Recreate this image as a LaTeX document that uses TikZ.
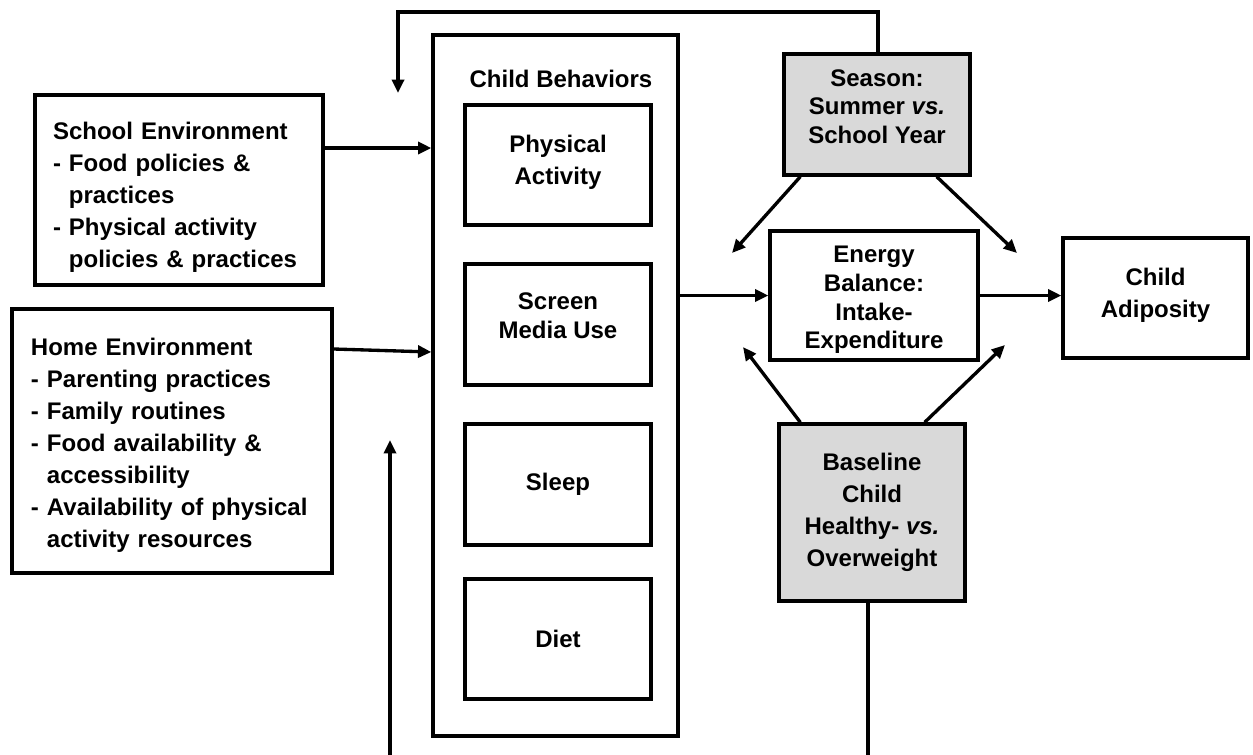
\documentclass[tikz,border=0pt]{standalone}
\usepackage{fontspec}
\setmainfont{Liberation Sans}
\usetikzlibrary{arrows.meta,calc}
\newdimen\px \px=0.75pt
\newcommand{\lowerby}[1]{\rule{0pt}{#1}}
\newcommand{\raiseby}[1]{\rule[-#1]{0pt}{#1}}
\tikzset{
  bx/.style={draw=black, line width=2.5pt, rectangle, inner sep=0pt, font=\bfseries},
  gbx/.style={bx, fill=black!15},
  tight/.style={align=center, font=\bfseries\fontsize{18pt}{21.5pt}\selectfont},
  loose/.style={align=center, font=\bfseries\fontsize{18pt}{24pt}\selectfont},
  lefttxt/.style={align=left, font=\bfseries\fontsize{18pt}{24pt}\selectfont},
  arr/.style={line width=2.5pt, -{Triangle[length=10pt,width=9pt]}}
}
\begin{document}
\begin{tikzpicture}[x=0.75pt,y=-0.75pt]
\useasboundingbox (0,0) rectangle (1253,754);
\clip (0,0) rectangle (1253,754);

% left boxes
\node[bx, lefttxt, minimum width=288\px, minimum height=190\px, text width=252\px, inner xsep=18\px] (school) at (179,190)
  {\lowerby{24.5pt}School Environment\\- Food policies \&\\\hphantom{-}\ practices\\- Physical activity\\\hphantom{-}\ policies \& practices};
\node[bx, lefttxt, minimum width=320\px, minimum height=264\px, text width=282\px, inner xsep=19\px] (home) at (172,441)
  {\lowerby{19pt}Home Environment\\- Parenting practices\\- Family routines\\- Food availability \&\\\hphantom{-}\ accessibility\\- Availability of physical\\\hphantom{-}\ activity resources};

% child behaviors
\node[bx, minimum width=245\px, minimum height=701\px] (cb) at (555.5,385.5) {};
\node[anchor=base, font=\bfseries\fontsize{18pt}{22pt}\selectfont] (cbt) at (561,87) {Child Behaviors};
\node[bx, loose, minimum width=186\px, minimum height=120\px] (pa) at (558,165) {Physical\\Activity\raiseby{7.5pt}};
\node[bx, tight, minimum width=186\px, minimum height=121\px] (sm) at (558,324.5) {Screen\\Media Use\raiseby{13.5pt}};
\node[bx, tight, minimum width=186\px, minimum height=121\px] (sl) at (558,484.5) {Sleep};
\node[bx, tight, minimum width=186\px, minimum height=120\px] (di) at (558,639) {Diet};

% right side
\node[bx, tight, minimum width=208\px, minimum height=129\px] (en) at (874,295.5) {\lowerby{19pt}Energy\\Balance:\\Intake-\\Expenditure};
\node[bx, loose, minimum width=185\px, minimum height=120\px] (ad) at (1155.5,298) {Child\\Adiposity\raiseby{7.5pt}};
\node[gbx, tight, minimum width=186\px, minimum height=121\px] (se) at (877,114.5) {Season:\\Summer \textit{vs.}\\School Year\raiseby{12pt}};
\node[gbx, loose, minimum width=186\px, minimum height=177\px] (bl) at (872,512.5) {Baseline\\Child\\Healthy- \textit{vs.}\\Overweight};

% connectors
\path (school.east) ++(0,-42) coordinate (s1);
\draw[arr] (s1) -- (s1 -| cb.west);
\path (home.east) ++(0,-92) coordinate (h1);
\path (cb.west) ++(0,-33.5) coordinate (h2);
\draw[arr] (h1) -- (h2);
\draw[arr] (cb.east |- en.west) -- (en.west);
\draw[arr] (en.east) -- (en.east -| ad.west);

\coordinate (e1) at (732,253);
\coordinate (e2) at (1017,253);
\coordinate (e3) at (743,347);
\coordinate (e4) at (1005,345);
\draw[arr] ([xshift=18\px]se.south west) -- (e1);
\draw[arr] ([xshift=-35\px]se.south east) -- (e2);
\draw[arr] ([xshift=23\px]bl.north west) -- (e3);
\draw[arr] ([xshift=-42\px]bl.north east) -- (e4);

\coordinate (t1) at (398,93);
\draw[arr] ([xshift=1\px]se.north) |- (t1 |- 0,12) -- (t1);
\coordinate (b1) at (390,440);
\draw[arr] ([xshift=-4\px]bl.south) -- ++(0,170) -| (b1);
\end{tikzpicture}
\end{document}
